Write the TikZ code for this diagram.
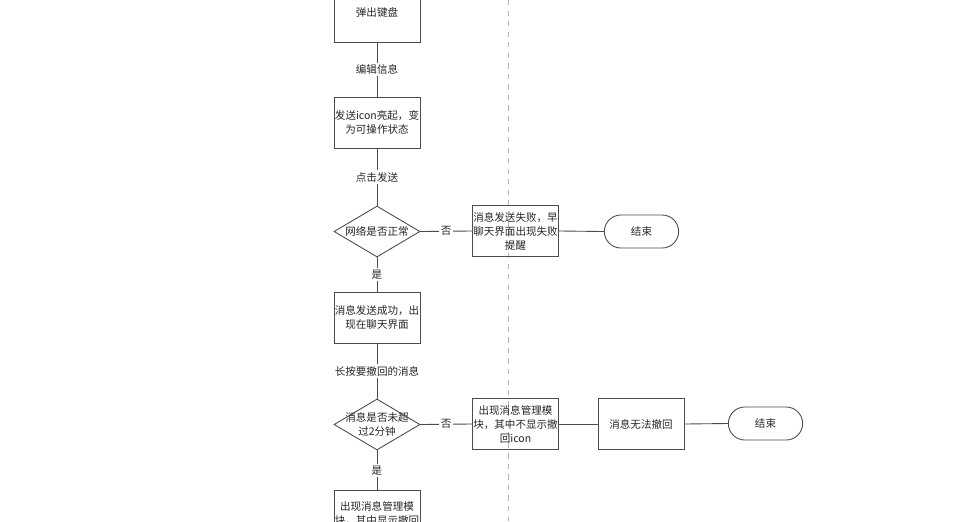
\documentclass[tikz,border=0pt]{standalone}
\usepackage{fontspec}
\setmainfont{Noto Sans CJK SC}
\usetikzlibrary{shapes.geometric,shapes.misc}
\begin{document}
\begin{tikzpicture}[x=0.02cm,y=-0.02cm,
  every node/.style={font=\fontsize{6}{8}\selectfont,text=black!85},
  box/.style={draw=black!70,line width=0.5pt,minimum width=86*0.02cm,minimum height=51*0.02cm,align=center,inner sep=0pt},
  dia/.style={draw=black!70,line width=0.5pt,diamond,aspect=1.69,minimum width=86*0.02cm,minimum height=51*0.02cm,inner sep=0pt},
  term/.style={draw=black!70,line width=0.5pt,rounded rectangle,minimum width=86*0.02cm,minimum height=33*0.02cm},
  lab/.style={fill=white,inner sep=1pt},
  ln/.style={draw=black!70,line width=0.5pt}]
\useasboundingbox (0,0) rectangle (960,521);
\fill[white] (0,0) rectangle (960,521);
\draw[black!30,dashed,line width=0.4pt] (508,0) -- (508,521);
\begin{scope}
\clip (0,0) rectangle (960,521);
\node[box,minimum height=60*0.02cm] (k) at (377,12) {弹出键盘};
\node[box,minimum height=60*0.02cm,anchor=north] (last) at (377,490) {\rule{0pt}{4pt}出现消息管理模\\块，其中显示撤回\\icon};
\end{scope}
\node[box] (s) at (377,122.5) {发送icon亮起，变\\为可操作状态};
\node[dia] (d1) at (377,231.5) {};
\node at (d1) {网络是否正常};
\node[box] (f) at (515.5,231) {消息发送失败，早\\聊天界面出现失败\\提醒};
\node[term] (e1) at (641.5,231.5) {结束};
\node[box] (ok) at (377,317.5) {消息发送成功，出\\现在聊天界面};
\node[dia] (d2) at (377,424.5) {};
\node[align=center] at (d2) {消息是否未超\\过2分钟};
\node[box] (m) at (515.5,424) {出现消息管理模\\块，其中不显示撤\\回icon};
\node[box] (n) at (641,424) {消息无法撤回};
\node[term] (e2) at (765.5,423.5) {结束};
\draw[ln] (k.south) -- node[lab]{编辑信息} (s.north);
\draw[ln] (s.south) -- node[lab]{点击发送} (d1.north);
\draw[ln] (d1.east) -- node[lab]{否} (f.west);
\draw[ln] (f.east) -- (e1.west);
\draw[ln] (d1.south) -- node[lab]{是} (ok.north);
\draw[ln] (ok.south) -- node[lab]{长按要撤回的消息} (d2.north);
\draw[ln] (d2.east) -- node[lab]{否} (m.west);
\draw[ln] (m.east) -- (n.west);
\draw[ln] (n.east) -- (e2.west);
\draw[ln] (d2.south) -- node[lab]{是} (last.north);
\end{tikzpicture}
\end{document}
